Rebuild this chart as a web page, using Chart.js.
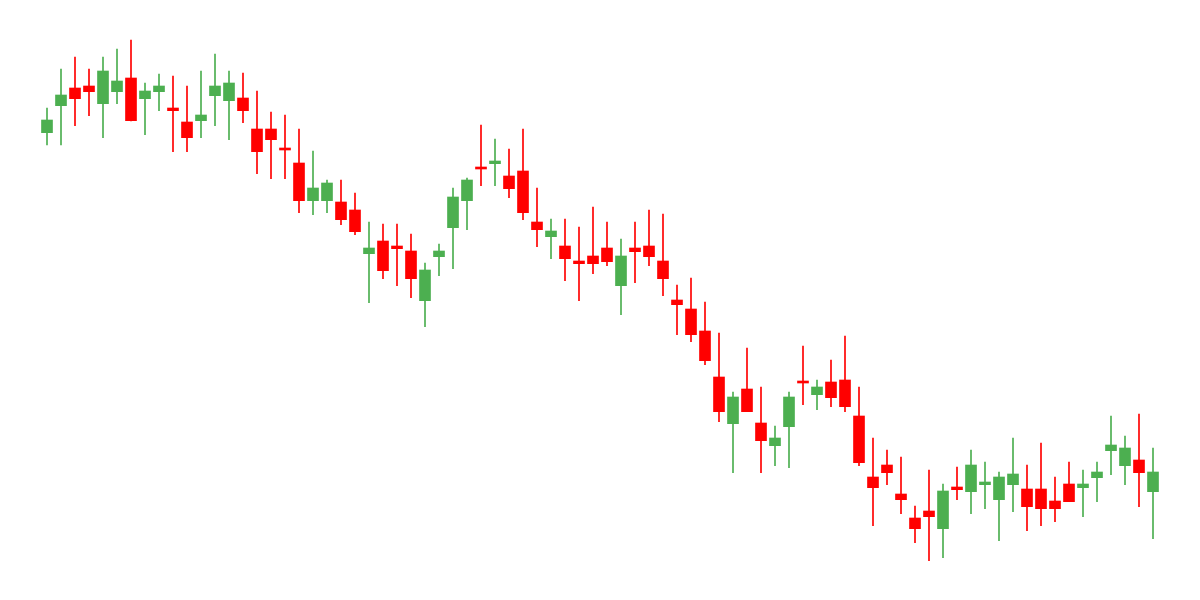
<!DOCTYPE html>
<html>
<head>
<meta charset="utf-8">
<script src="https://cdn.jsdelivr.net/npm/chart.js@4"></script>
<style>
  html, body { margin: 0; padding: 0; background: #fff; }
  #wrap { width: 1200px; height: 600px; }
</style>
</head>
<body>
<div id="wrap"><canvas id="candles" width="1200" height="600"></canvas></div>
<script>
const opens = [467.3, 494.3, 512, 514, 496.3, 508.3, 522, 501.3, 508.3, 492,
  478, 479.3, 504.3, 499.3, 502, 471, 471, 451, 437, 399.3,
  399.3, 398, 390, 346.3, 359, 354, 349, 299.3, 343.3, 372.3,
  399.3, 432, 436.3, 424, 429, 378, 363.3, 354, 339, 344,
  352, 314.3, 352, 354, 339, 300, 291, 269, 223, 176.3,
  211, 177, 154.3, 173.3, 218, 205.3, 218, 220, 184, 123,
  135, 106, 82, 89, 71.3, 113, 108.3, 115.3, 100.3, 115.3,
  111, 111, 99, 116, 112.3, 122.3, 149.3, 134.3, 140, 108.3];
const highs = [492, 531, 543, 531, 543, 551, 560, 517, 526, 524,
  514, 529, 546, 529, 527, 509, 488, 485, 471, 449,
  420, 420, 407, 378, 376, 376, 366, 337, 356, 412,
  422, 475, 461, 451, 471, 412, 381, 381, 373, 393,
  378, 361, 378, 390, 386, 315, 322, 298, 267, 208,
  252, 213, 174, 208, 254, 220, 240, 264, 213, 162,
  150, 143, 94, 130, 116, 133, 150, 138, 128, 162,
  135, 157, 123, 138, 130, 138, 184, 164, 186, 152];
const lows = [455, 455, 474.3, 484.3, 462.3, 496.3, 479, 465.3, 489.3, 448.3,
  448.3, 462.3, 474.3, 460.3, 477.3, 426.3, 421.3, 421.3, 387.3, 385.3,
  387.3, 375.3, 365.3, 297.3, 321.3, 314.3, 302.3, 273.3, 324.3, 331.3,
  370.3, 414.3, 414.3, 402.3, 380.3, 353.3, 341.3, 319.3, 299.3, 326.3,
  334.3, 285.3, 317.3, 334.3, 304.3, 265.3, 258.3, 235.3, 178.3, 127.3,
  188.3, 127.3, 134.3, 132.3, 195.3, 190.3, 193.3, 188.3, 134.3, 74.3,
  115.3, 86.3, 57.3, 39.3, 42.3, 100.3, 86.3, 91.3, 59.3, 88.3,
  69.3, 74.3, 78.3, 98.3, 83.3, 98.3, 125.3, 115.3, 93.3, 61.3];
const closes = [480, 505, 501.3, 508.3, 529, 519, 479.3, 509, 514, 489.3,
  462.3, 485, 514, 517, 489.3, 448.3, 460.3, 450, 399.3, 412,
  417, 380.3, 368.3, 352, 329.3, 351.3, 321.3, 330, 349, 403,
  420, 431, 439, 411.3, 387.3, 370.3, 369, 341.3, 336.3, 336.3,
  338.3, 344, 348.3, 343.3, 321.3, 295.3, 265.3, 239.3, 188.3, 203,
  188.3, 159.3, 162, 203, 217, 213, 202.3, 193.3, 137.3, 112.3,
  127.3, 100.3, 71.3, 83.3, 109, 110.3, 135, 118, 123, 126,
  93.3, 91.3, 91.3, 98.3, 116, 128, 155, 152, 127.3, 128];
const days = opens.map((_, i) => 'Day ' + (i + 1));

const upColor = '#4caf50';
const downColor = '#ff0000';
const candleColors = opens.map((o, i) => closes[i] >= o ? upColor : downColor);

new Chart(document.getElementById('candles').getContext('2d'), {
  type: 'bar',
  data: {
    labels: days,
    datasets: [{
      label: 'Body',
      data: opens.map((o, i) => [o, closes[i]]),
      backgroundColor: candleColors,
      borderWidth: 0,
      barThickness: 11,
      minBarLength: 2,
      grouped: false,
      order: 0
    }, {
      label: 'Wick',
      data: lows.map((l, i) => [l, highs[i]]),
      backgroundColor: candleColors,
      borderWidth: 0,
      barThickness: 1,
      grouped: false,
      order: 1
    }]
  },
  options: {
    responsive: false,
    animation: false,
    layout: { padding: { left: 40, right: 40, top: 0, bottom: 0 } },
    plugins: {
      legend: { display: false },
      tooltip: { enabled: false }
    },
    scales: {
      x: { display: false, grid: { display: false } },
      y: { display: false, min: 0, max: 600, grid: { display: false } }
    }
  }
});
</script>
</body>
</html>
